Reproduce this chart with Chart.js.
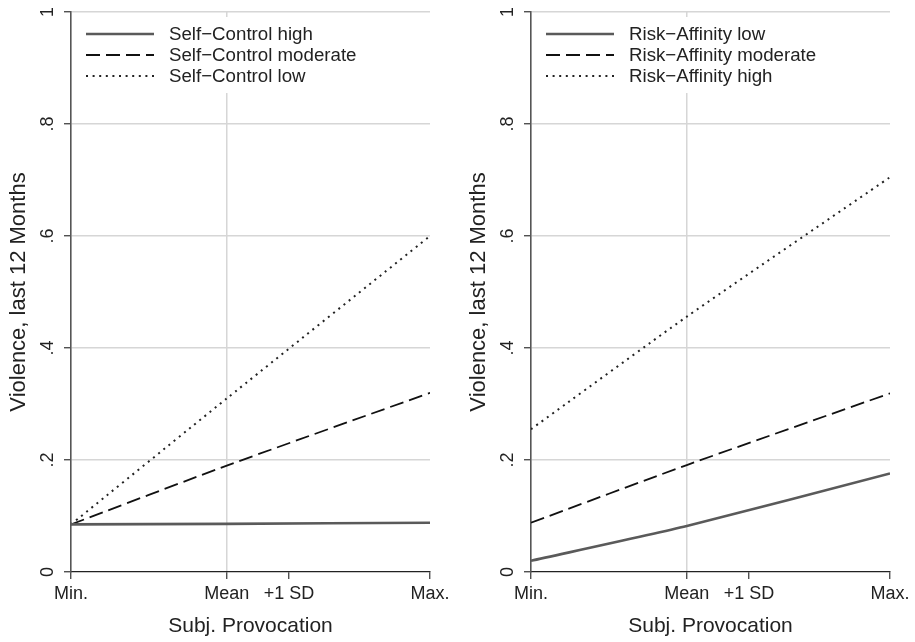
<!DOCTYPE html>
<html>
<head>
<meta charset="utf-8">
<script src="https://cdn.jsdelivr.net/npm/chart.js@4.4.1/dist/chart.umd.min.js"></script>
<style>
  html, body { margin: 0; padding: 0; background: #fff; }
  #wrap { position: relative; width: 915px; height: 642px; }
  #leftBox { position: absolute; left: 0; top: 0; width: 460px; height: 642px; }
  #rightBox { position: absolute; left: 460px; top: 0; width: 455px; height: 642px; }
</style>
</head>
<body>
<div id="wrap">
  <div id="leftBox"><canvas id="leftChart" width="460" height="642"></canvas></div>
  <div id="rightBox"><canvas id="rightChart" width="455" height="642"></canvas></div>
</div>
<script>
// x positions (Min .. Max scaled to 0..1)
const xTickValues = [0, 0.434, 0.607, 1]
const xTickLabels = ["Min.", "Mean", "+1 SD", "Max."]
const pointX = [0, 0.434, 1]   // Min, Mean, Max

const yTickValues = [0, 0.2, 0.4, 0.6, 0.8, 1]
const yTickLabels = ["0", ".2", ".4", ".6", ".8", "1"]

// left panel
const leftLabels = ["Self\u2212Control high", "Self\u2212Control moderate", "Self\u2212Control low"]
const scHigh = [0.085, 0.086, 0.088]
const scModerate = [0.085, 0.19, 0.32]
const scLow = [0.085, 0.31, 0.60]

// right panel
const rightLabels = ["Risk\u2212Affinity low", "Risk\u2212Affinity moderate", "Risk\u2212Affinity high"]
const raLow = [0.02, 0.082, 0.176]
const raModerate = [0.088, 0.191, 0.319]
const raHigh = [0.255, 0.456, 0.705]

const FONT = "'Liberation Sans', Arial, Helvetica, sans-serif"

const lineStyles = [
  { borderColor: "#5a5a5a", borderWidth: 2.6, borderDash: [] },
  { borderColor: "#111", borderWidth: 1.8, borderDash: [14, 6] },
  { borderColor: "#222", borderWidth: 2, borderDash: [2, 4.6] },
]

function toPoints(vals) {
  return vals.map((v, i) => ({ x: pointX[i], y: v }))
}

// legend drawn inside plot, with white box over the grid
const insideLegend = {
  id: "insideLegend",
  afterDatasetsDraw(chart) {
    const ctx = chart.ctx
    const area = chart.chartArea
    ctx.save()
    ctx.fillStyle = "#fff"
    ctx.fillRect(area.left + 6, area.top + 5, 295, 76)
    chart.data.datasets.forEach((ds, i) => {
      const y = area.top + 22 + i * 21
      ctx.beginPath()
      ctx.strokeStyle = ds.borderColor
      ctx.lineWidth = ds.borderWidth
      ctx.setLineDash(ds.borderDash)
      ctx.moveTo(area.left + 15, y)
      ctx.lineTo(area.left + 83, y)
      ctx.stroke()
      ctx.setLineDash([])
      ctx.fillStyle = "#222"
      ctx.font = "18.7px " + FONT
      ctx.textAlign = "left"
      ctx.textBaseline = "middle"
      ctx.fillText(ds.label, area.left + 98, y + 1)
    })
    ctx.restore()
  }
}

// y tick labels rotated like the original
const rotatedYLabels = {
  id: "rotatedYLabels",
  afterDraw(chart) {
    const ctx = chart.ctx
    const scale = chart.scales.y
    ctx.save()
    ctx.fillStyle = "#222"
    ctx.font = "18px " + FONT
    ctx.textAlign = "center"
    ctx.textBaseline = "middle"
    yTickValues.forEach((v, i) => {
      ctx.save()
      ctx.translate(scale.right - 23, scale.getPixelForValue(v))
      ctx.rotate(-Math.PI / 2)
      ctx.fillText(yTickLabels[i], 0, 0)
      ctx.restore()
    })
    ctx.restore()
  }
}

function makeChart(canvasId, labels, series, rightPad) {
  const c = document.querySelector(canvasId).getContext("2d")
  return new Chart(c, {
    type: "line",
    data: {
      datasets: series.map((vals, i) => ({
        label: labels[i],
        data: toPoints(vals),
        ...lineStyles[i],
        pointRadius: 0,
        fill: false,
        tension: 0.2,
      }))
    },
    options: {
      responsive: false,
      animation: false,
      layout: { padding: { top: 12, left: 0, right: rightPad, bottom: 0 } },
      plugins: {
        legend: { display: false },
        tooltip: { enabled: false },
      },
      scales: {
        x: {
          type: "linear",
          min: 0,
          max: 1,
          afterBuildTicks: (scale) => {
            scale.ticks = xTickValues.map(v => ({ value: v }))
          },
          afterFit: (scale) => { scale.height = 70 },
          ticks: {
            autoSkip: false,
            maxRotation: 0,
            color: "#222",
            padding: 4,
            font: { size: 18, family: FONT },
            callback: (value, index) => xTickLabels[index],
          },
          grid: {
            color: (ctx) => ctx.tick && ctx.tick.value === xTickValues[1] ? "#d6d6d6" : "rgba(0,0,0,0)",
            lineWidth: 1.5,
            tickColor: "#333",
            tickLength: 7,
            tickWidth: 1.2,
          },
          border: { color: "#222", width: 1.2 },
          title: {
            display: true,
            text: "Subj. Provocation",
            color: "#222",
            font: { size: 21, family: FONT },
            padding: { top: 0, bottom: 3 },
          },
        },
        y: {
          min: 0,
          max: 1,
          afterBuildTicks: (scale) => {
            scale.ticks = yTickValues.map(v => ({ value: v }))
          },
          afterFit: (scale) => { scale.width = 71 },
          ticks: { display: false },
          grid: {
            color: (ctx) => ctx.tick && ctx.tick.value === 0 ? "rgba(0,0,0,0)" : "#d6d6d6",
            lineWidth: 1.5,
            tickColor: "#333",
            tickLength: 7,
            tickWidth: 1.2,
          },
          border: { color: "#555", width: 1.6 },
          title: {
            display: true,
            text: "Violence, last 12 Months",
            color: "#222",
            font: { size: 22, family: FONT },
            padding: { top: 6, bottom: 0 },
          },
        },
      },
    },
    plugins: [insideLegend, rotatedYLabels],
  })
}

const left = makeChart("#leftChart", leftLabels, [scHigh, scModerate, scLow], 30)
const right = makeChart("#rightChart", rightLabels, [raLow, raModerate, raHigh], 25)
</script>
</body>
</html>
